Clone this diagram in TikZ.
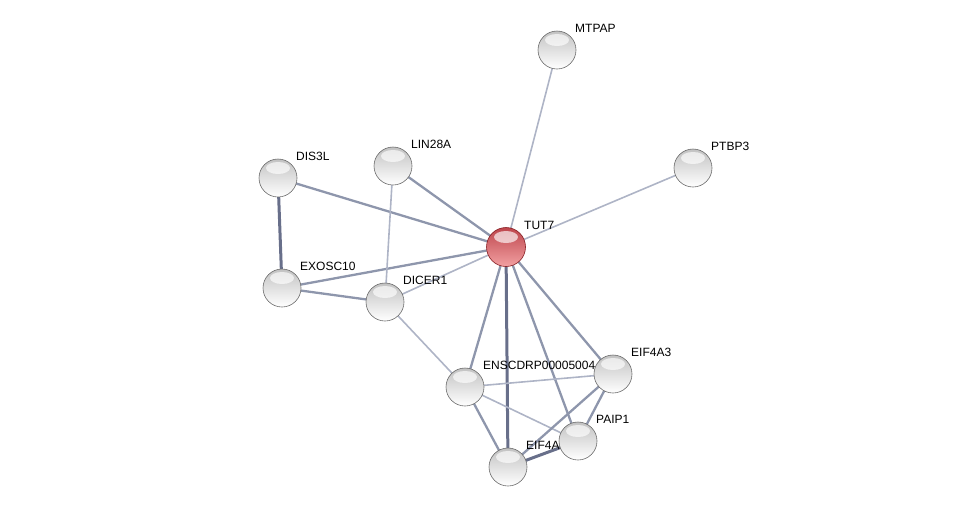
\documentclass[tikz,border=0pt]{standalone}
\usepackage{fontspec}
\setmainfont{Liberation Sans}
\begin{document}
\begin{tikzpicture}[x=1pt, y=-1pt,
        prot/.style={circle, inner sep=0pt, minimum size=38pt},
        lbl/.style={anchor=west, inner sep=1pt, font=\fontsize{12}{14}\selectfont},
        weak/.style={line width=1.6pt, draw={rgb,255:red,174;green,180;blue,198}},
        mid/.style={line width=2.3pt, draw={rgb,255:red,142;green,150;blue,172}},
        strong/.style={line width=3pt, draw={rgb,255:red,104;green,111;blue,138}},
        greyball/.style={top color=white!76!black, middle color=white!86!black, bottom color=white,
            draw=white!42!black, line width=0.6pt},
        redball/.style={top color={rgb,255:red,190;green,70;blue,76}, middle color={rgb,255:red,215;green,105;blue,110},
            bottom color={rgb,255:red,242;green,160;blue,162}, draw={rgb,255:red,135;green,30;blue,35}, line width=0.6pt},
        shine/.style={white, opacity=0.65}]
    \useasboundingbox (0, 0) rectangle (976, 512);
    \node[prot] (mtpap) at (557, 50) {};
    \node[prot] (ptbp3) at (693, 168) {};
    \node[prot] (tut7) at (506, 247) {};
    \node[prot] (lin28a) at (393, 166) {};
    \node[prot] (dis3l) at (278, 178) {};
    \node[prot] (exosc10) at (282, 288) {};
    \node[prot] (dicer1) at (385, 302) {};
    \node[prot] (enscdrp) at (465, 387) {};
    \node[prot] (eif4a3) at (613, 374) {};
    \node[prot] (paip1) at (578, 441) {};
    \node[prot] (eif4a) at (508, 467) {};
    % edges
    \draw[weak] (tut7.center) -- (mtpap.center);
    \draw[weak] (tut7.center) -- (ptbp3.center);
    \draw[mid] (tut7.center) -- (lin28a.center);
    \draw[mid] (tut7.center) -- (dis3l.center);
    \draw[mid] (tut7.center) -- (exosc10.center);
    \draw[weak] (tut7.center) -- (dicer1.center);
    \draw[mid] (tut7.center) -- (enscdrp.center);
    \draw[strong] (tut7.center) -- (eif4a.center);
    \draw[mid] (tut7.center) -- (paip1.center);
    \draw[mid] (tut7.center) -- (eif4a3.center);
    \draw[strong] (dis3l.center) -- (exosc10.center);
    \draw[weak] (lin28a.center) -- (dicer1.center);
    \draw[mid] (exosc10.center) -- (dicer1.center);
    \draw[weak] (dicer1.center) -- (enscdrp.center);
    \draw[weak] (enscdrp.center) -- (eif4a3.center);
    \draw[weak] (enscdrp.center) -- (paip1.center);
    \draw[mid] (enscdrp.center) -- (eif4a.center);
    \draw[mid] (eif4a.center) -- (eif4a3.center);
    \draw[strong] (eif4a.center) -- (paip1.center);
    \draw[mid] (paip1.center) -- (eif4a3.center);
    % labels
    \node[lbl] at ([shift={(17, -22)}]mtpap.center) {MTPAP};
    \node[lbl] at ([shift={(17, -22)}]ptbp3.center) {PTBP3};
    \node[lbl] at ([shift={(17, -22)}]tut7.center) {TUT7};
    \node[lbl] at ([shift={(17, -22)}]lin28a.center) {LIN28A};
    \node[lbl] at ([shift={(17, -22)}]dis3l.center) {DIS3L};
    \node[lbl] at ([shift={(17, -22)}]exosc10.center) {EXOSC10};
    \node[lbl] at ([shift={(17, -22)}]dicer1.center) {DICER1};
    \node[lbl] at ([shift={(17, -22)}]enscdrp.center) {ENSCDRP00005004};
    \node[lbl] at ([shift={(17, -22)}]eif4a3.center) {EIF4A3};
    \node[lbl] at ([shift={(17, -22)}]paip1.center) {PAIP1};
    \node[lbl] at ([shift={(17, -22)}]eif4a.center) {EIF4A};
    % proteins
    \foreach \p in {mtpap, ptbp3, lin28a, dis3l, exosc10, dicer1, enscdrp, eif4a3, paip1, eif4a} {
        \shade[greyball] (\p.center) circle (19);
        \fill[shine] ([shift={(0, -10)}]\p.center) ellipse (12 and 6);
    }
    \shade[redball] (tut7.center) circle (19.5);
    \fill[shine] ([shift={(0, -10)}]tut7.center) ellipse (12 and 6);
\end{tikzpicture}
\end{document}
